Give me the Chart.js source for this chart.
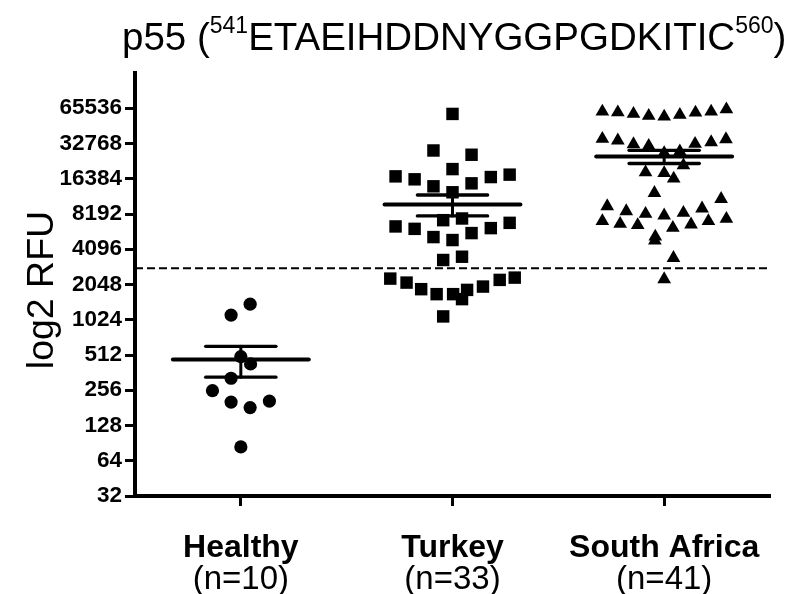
<!DOCTYPE html>
<html><head><meta charset="utf-8">
<script src="https://cdn.jsdelivr.net/npm/chart.js@4"></script>
<style>
html,body{margin:0;padding:0;background:#fff;}
#wrap{position:relative;width:786px;height:594px;overflow:hidden;}
#c{position:absolute;left:0;top:0;}
#title{position:absolute;left:122px;top:18px;font-family:"Liberation Sans",Arial,sans-serif;font-size:38.5px;line-height:1;color:#000;white-space:nowrap;}
#title sup{font-size:23px;vertical-align:baseline;position:relative;top:-17px;}
</style></head><body>
<div id="wrap"><canvas id="c" width="786" height="594"></canvas>
<div id="title">p55 (<sup>541</sup>ETAEIHDDNYGGPGDKITIC<sup>560</sup>)</div></div>
<script>
const categories = ['Healthy', 'Turkey', 'South Africa'];
const groupSizes = ['(n=10)', '(n=33)', '(n=41)'];
const yTicks = [32, 64, 128, 256, 512, 1024, 2048, 4096, 8192, 16384, 32768, 65536];
const yMin = 32, yMax = 131072;
const cutoff = 2820;
const yTitle = 'log2 RFU';

const healthyValues = [1392, 1123, 496, 430, 324, 254, 203, 182, 207, 84];
const healthyOffsets = [0.044, -0.046, 0, 0.046, -0.046, -0.134, -0.046, 0.044, 0.135, 0];

const turkeyValues = [58620, 28560, 26270, 19810, 17170, 16200, 14120, 14970, 16940, 17760, 12560,
  6415, 6118, 7255, 7501, 6885, 6205, 5203, 4908, 5628, 3316, 3536,
  2300, 2126, 1868, 1694, 1694, 1842, 1536, 1966, 2242, 2345, 1093];
const turkeyOffsets = [0, -0.090, 0.090, 0, -0.269, -0.179, -0.090, 0.090, 0.181, 0.270, 0,
  -0.269, -0.179, -0.044, 0.045, 0.270, 0.181, -0.090, 0, 0.090, -0.044, 0.045,
  -0.294, -0.217, -0.148, -0.075, 0.003, 0.069, 0.045, 0.144, 0.223, 0.294, -0.044];

const saValues = [61310, 60480, 58620, 56360, 55610, 57480, 60130, 61310, 64150,
  35950, 34770, 32320, 31310, 32590, 33620, 35650,
  27100, 28020, 21300,
  18580, 18320, 16420, 12380,
  9545, 8653, 8208, 7958, 8370, 9126, 11010,
  7116, 6747, 6581, 6239, 6668, 7116, 7446,
  5254, 4858, 3447, 2273];
const saOffsets = [-0.292, -0.219, -0.145, -0.073, 0, 0.074, 0.148, 0.222, 0.294,
  -0.292, -0.219, -0.145, -0.073, 0.146, 0.222, 0.292,
  0, 0.074, 0.091,
  -0.088, 0, 0.045, -0.046,
  -0.269, -0.179, -0.088, 0, 0.091, 0.179, 0.269,
  -0.292, -0.208, -0.125, 0.041, 0.127, 0.209, 0.294,
  -0.042, -0.044, 0.044, 0];

const groups = [
  {values: healthyValues, offsets: healthyOffsets, style: 'circle', radius: 6.6},
  {values: turkeyValues, offsets: turkeyOffsets, style: 'rect', radius: 8.8},
  {values: saValues, offsets: saOffsets, style: 'triangle', radius: 7.9}
];

function mean(a) { return a.reduce((s, v) => s + v, 0) / a.length; }
function sem(a) {
  const m = mean(a);
  return Math.sqrt(a.reduce((s, v) => s + (v - m) * (v - m), 0) / (a.length - 1)) / Math.sqrt(a.length);
}

const FONT = '"Liberation Sans", Arial, Helvetica, sans-serif';
const MEAN_HALF = 0.321, SEM_HALF = 0.166;

const datasets = [];
function seg(data, width, dash) {
  datasets.push({type: 'line', data: data, showLine: true, borderColor: '#000', borderWidth: width,
    borderCapStyle: dash ? 'butt' : 'round', borderDash: dash || [], pointRadius: 0, pointHoverRadius: 0,
    fill: false, tension: 0, order: 0, clip: false});
}
groups.forEach((g, i) => {
  const m = mean(g.values), s = sem(g.values);
  seg([{x: i - MEAN_HALF, y: m}, {x: i + MEAN_HALF, y: m}], 4);
  seg([{x: i - SEM_HALF, y: m + s}, {x: i + SEM_HALF, y: m + s}], 3.3);
  seg([{x: i - SEM_HALF, y: m - s}, {x: i + SEM_HALF, y: m - s}], 3.3);
  seg([{x: i, y: m - s}, {x: i, y: m + s}], 3);
});
seg([{x: -0.5, y: cutoff}, {x: 2.5, y: cutoff}], 2, [8, 4]);
groups.forEach((g, i) => {
  datasets.push({
    type: 'scatter',
    data: g.values.map((v, k) => ({x: i + g.offsets[k], y: v})),
    pointStyle: g.style, pointRadius: g.radius, pointHoverRadius: g.radius,
    backgroundColor: '#000', borderColor: '#000', borderWidth: 0, order: 1, clip: false
  });
});

const extraText = {
  id: 'extraText',
  afterDraw(chart) {
    const ctx = chart.ctx, xs = chart.scales.x;
    ctx.save();
    ctx.fillStyle = '#000';
    ctx.textAlign = 'center';
    ctx.textBaseline = 'middle';
    ctx.font = '33px ' + FONT;
    groupSizes.forEach((t, i) => ctx.fillText(t, xs.getPixelForValue(i), 580));
    ctx.translate(43, 290);
    ctx.rotate(-Math.PI / 2);
    ctx.font = '37.5px ' + FONT;
    ctx.fillText(yTitle, 0, 0);
    ctx.restore();
  }
};

new Chart(document.getElementById('c'), {
  type: 'scatter',
  data: {datasets: datasets},
  plugins: [extraText],
  options: {
    responsive: false, animation: false, devicePixelRatio: 1,
    layout: {padding: {top: 73, right: 16, left: 0, bottom: 0}},
    plugins: {legend: {display: false}, tooltip: {enabled: false}, title: {display: false}},
    scales: {
      x: {
        type: 'linear', min: -0.5, max: 2.5, bounds: 'data',
        afterBuildTicks: s => { s.ticks = categories.map((c, i) => ({value: i})); },
        afterFit: s => { s.height = 98; },
        ticks: {autoSkip: false, color: '#000', padding: 23, maxRotation: 0,
          font: {family: FONT, size: 32, weight: 'bold'},
          callback: v => categories[v]},
        grid: {display: true, drawOnChartArea: false, drawTicks: true, tickLength: 10, tickWidth: 3, tickColor: '#000'},
        border: {display: true, color: '#000', width: 4}
      },
      y: {
        type: 'logarithmic', min: yMin, max: yMax, bounds: 'data',
        afterBuildTicks: s => { s.ticks = yTicks.map(v => ({value: v})); },
        afterFit: s => { s.width = 135; },
        ticks: {autoSkip: false, color: '#000', padding: 3,
          font: {family: FONT, size: 22.5, weight: 'bold'},
          callback: v => String(v)},
        grid: {display: true, drawOnChartArea: false, drawTicks: true, tickLength: 10, tickWidth: 3, tickColor: '#000'},
        border: {display: true, color: '#000', width: 4},
        title: {display: false}
      }
    }
  }
});
</script>
</body></html>
